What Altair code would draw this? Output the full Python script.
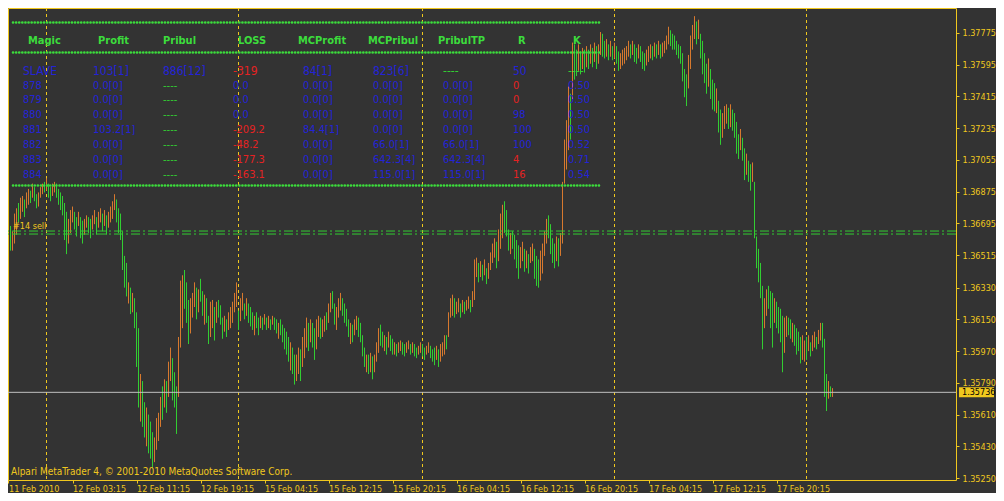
import altair as alt
import pandas as pd

# ---------------- data ----------------
# bar highs / lows in pips above 1.3500 (M15 bars, left to right)
HIGH_PIPS = [
    168, 165, 175, 178, 181, 184, 185, 183, 187, 189,
    188, 192, 190, 186, 187, 190, 192, 193, 195, 192,
    190, 192, 193, 192, 189, 187, 185, 181, 176, 172,
    177, 179, 176, 173, 176, 173, 171, 172, 174, 173,
    172, 174, 177, 173, 176, 178, 175, 177, 174, 176,
    179, 182, 186, 183, 178, 175, 165, 151, 147, 136,
    133, 130, 127, 119, 110, 84, 80, 68, 65, 61,
    57, 51, 48, 59, 62, 71, 77, 81, 80, 91,
    99, 93, 85, 77, 105, 137, 140, 143, 136, 126,
    127, 130, 136, 133, 132, 138, 131, 129, 127, 117,
    125, 126, 122, 125, 126, 123, 116, 117, 115, 119,
    122, 125, 130, 136, 120, 127, 130, 124, 127, 124,
    122, 119, 117, 119, 116, 117, 116, 118, 116, 117,
    115, 117, 116, 115, 113, 115, 112, 110, 108, 105,
    102, 99, 95, 95, 99, 98, 105, 110, 116, 113,
    115, 113, 110, 115, 117, 116, 115, 117, 119, 124,
    130, 131, 124, 122, 127, 130, 127, 124, 121, 115,
    113, 112, 115, 117, 116, 113, 106, 99, 95, 95,
    96, 94, 95, 102, 110, 112, 108, 106, 105, 108,
    106, 104, 102, 101, 102, 103, 102, 101, 102, 103,
    101, 102, 101, 99, 100, 102, 101, 99, 100, 102,
    100, 98, 99, 100, 98, 101, 102, 106, 106, 119,
    127, 129, 127, 125, 127, 124, 126, 125, 126, 128,
    126, 131, 149, 150, 147, 148, 146, 149, 144, 147,
    153, 158, 161, 159, 166, 175, 180, 182, 177, 166,
    164, 165, 163, 160, 157, 156, 159, 155, 154, 152,
    156, 158, 155, 151, 149, 154, 158, 165, 172, 174,
    169, 161, 158, 162, 161, 164, 193, 217, 228, 247,
    243, 272, 271, 268, 271, 267, 269, 268, 270, 268,
    271, 269, 272, 270, 271, 278, 277, 273, 274, 271,
    273, 270, 272, 270, 267, 266, 268, 269, 270, 273,
    271, 273, 271, 269, 271, 270, 267, 266, 268, 270,
    271, 270, 272, 271, 273, 271, 272, 273, 276, 281,
    279, 277, 276, 273, 271, 270, 266, 257, 254, 265,
    276, 282, 287, 284, 285, 277, 273, 266, 260, 263,
    257, 251, 249, 246, 239, 234, 232, 236, 237, 235,
    237, 234, 232, 227, 220, 223, 218, 212, 209, 205,
    203, 204, 193, 162, 155, 147, 134, 127, 132, 134,
    131, 130, 127, 125, 122, 121, 117, 116, 117, 116,
    115, 113, 112, 110, 108, 105, 106, 103, 105, 106,
    102, 106, 108, 105, 109, 113, 113, 104, 84, 80,
    77, 76,
]
LOW_PIPS = [
    154, 154, 158, 163, 170, 172, 176, 173, 178, 180,
    181, 184, 182, 178, 179, 184, 186, 187, 188, 184,
    182, 185, 187, 184, 180, 177, 174, 160, 152, 158,
    164, 170, 166, 162, 168, 161, 158, 163, 167, 164,
    161, 166, 169, 163, 167, 170, 165, 168, 163, 167,
    170, 172, 177, 170, 164, 160, 143, 133, 128, 124,
    118, 119, 110, 88, 65, 57, 54, 48, 43, 39,
    36, 31, 34, 41, 46, 54, 58, 65, 62, 71,
    80, 69, 65, 50, 71, 99, 110, 121, 113, 101,
    107, 116, 122, 115, 119, 125, 117, 112, 113, 101,
    105, 110, 103, 113, 116, 112, 104, 108, 105, 109,
    110, 113, 119, 122, 109, 114, 120, 115, 117, 113,
    111, 109, 106, 110, 106, 110, 109, 112, 109, 110,
    109, 112, 109, 107, 104, 106, 102, 98, 95, 91,
    86, 84, 78, 80, 84, 80, 88, 93, 99, 97,
    102, 99, 92, 98, 105, 104, 105, 108, 109, 113,
    119, 121, 112, 109, 116, 120, 117, 113, 111, 105,
    101, 102, 106, 109, 105, 102, 94, 88, 85, 84,
    85, 81, 85, 91, 96, 100, 99, 97, 95, 99,
    97, 95, 95, 94, 96, 97, 95, 94, 96, 98,
    95, 96, 94, 93, 95, 96, 94, 92, 95, 96,
    93, 91, 89, 92, 88, 91, 94, 95, 98, 105,
    116, 117, 116, 118, 119, 116, 119, 118, 120, 121,
    119, 122, 126, 139, 136, 139, 137, 140, 135, 138,
    143, 147, 150, 144, 148, 155, 161, 164, 162, 154,
    152, 155, 149, 144, 138, 144, 148, 142, 144, 141,
    147, 148, 138, 134, 133, 137, 141, 151, 158, 161,
    152, 147, 144, 148, 145, 151, 158, 192, 200, 211,
    217, 240, 251, 253, 256, 254, 257, 255, 258, 257,
    260, 258, 261, 257, 260, 265, 264, 263, 264, 262,
    264, 262, 263, 260, 256, 257, 259, 260, 262, 264,
    263, 265, 261, 260, 263, 261, 257, 256, 259, 261,
    263, 262, 264, 263, 265, 263, 264, 266, 268, 271,
    270, 268, 268, 265, 263, 260, 250, 241, 236, 246,
    257, 268, 274, 271, 274, 263, 254, 249, 243, 247,
    240, 234, 233, 232, 221, 214, 218, 223, 226, 223,
    224, 222, 218, 209, 206, 211, 205, 194, 197, 193,
    188, 193, 161, 144, 136, 127, 98, 110, 117, 121,
    110, 99, 113, 110, 107, 102, 85, 96, 105, 106,
    104, 102, 100, 95, 97, 90, 92, 91, 92, 97,
    94, 97, 99, 98, 101, 103, 99, 71, 63, 70,
    71, 71,
]
# u = up bar, d = down bar
DIRECTION = (
    "duuuduuduu" "dudduuudud" "duuddddddu" "uuddudduud" "duuduududu"
    "uuuddddddu" "duddduddud" "dduuuududu" "uddduuuddd" "uuududdudd"
    "uududddudu" "uuuuduudud" "dduddududu" "dudduddddd" "udduuduuud"
    "udduuduudu" "udduuudddd" "uduuddddud" "uduuuddudu" "dduduudduu"
    "dudduudduu" "ddduduuudu" "uuduududuu" "duuudududu" "uuuduuuddd"
    "udddduudud" "uuddduuuud" "ddduduuuuu" "duddududud" "ududuuddud"
    "ududduuuuu" "dudduddduu" "udududuuuu" "dddddddddu" "uuududdddu"
    "dddudduuud" "udddduddud" "duddddduud" "ddudddduud" "dudddduudu"
    "duuduudddu" "du"
)

TIME_LABELS = ["11 Feb 2010", "12 Feb 03:15", "12 Feb 11:15", "12 Feb 19:15",
               "15 Feb 04:15", "15 Feb 12:15", "15 Feb 20:15", "16 Feb 04:15",
               "16 Feb 12:15", "16 Feb 20:15", "17 Feb 04:15", "17 Feb 12:15",
               "17 Feb 20:15"]
TIME_TICK_BARS = [-1, 31, 63, 95, 127, 159, 191, 223, 255, 287, 319, 351, 383]
SEPARATOR_BARS = [18, 114, 206, 302, 398]
PRICE_TICKS = [1.37775, 1.37595, 1.37415, 1.37235, 1.37055, 1.36875, 1.36695,
               1.36515, 1.36330, 1.36150, 1.35970, 1.35790, 1.35610, 1.35430, 1.35250]
ORDER_PRICES = [1.36651, 1.36634]
CURRENT_PRICE = 1.35736
ORDER_LABEL = "#14 sell"
COPYRIGHT = "Alpari MetaTrader 4, \u00a9 2001-2010 MetaQuotes Software Corp."

HEADERS = ["Magic", "Profit", "Pribul", "LOSS", "MCProfit", "MCPribul", "PribulTP", "R", "K"]
MAGIC = ["SLAVE", "878", "879", "880", "881", "882", "883", "884"]
PROFIT = ["103[1]", "0.0[0]", "0.0[0]", "0.0[0]", "103.2[1]", "0.0[0]", "0.0[0]", "0.0[0]"]
PRIBUL = ["886[12]", "----", "----", "----", "----", "----", "----", "----"]
LOSS = ["-319", "0.0", "0.0", "0.0", "-209.2", "-48.2", "-177.3", "-163.1"]
MCPROFIT = ["84[1]", "0.0[0]", "0.0[0]", "0.0[0]", "84.4[1]", "0.0[0]", "0.0[0]", "0.0[0]"]
MCPRIBUL = ["823[6]", "0.0[0]", "0.0[0]", "0.0[0]", "0.0[0]", "66.0[1]", "642.3[4]", "115.0[1]"]
PRIBULTP = ["----", "0.0[0]", "0.0[0]", "0.0[0]", "0.0[0]", "66.0[1]", "642.3[4]", "115.0[1]"]
R_COL = ["50", "0", "0", "98", "100", "100", "4", "16"]
K_COL = ["----", "0.50", "0.50", "0.50", "0.50", "0.52", "0.71", "0.54"]
TABLE_COLUMNS = [MAGIC, PROFIT, PRIBUL, LOSS, MCPROFIT, MCPRIBUL, PRIBULTP, R_COL, K_COL]

# ---------------- layout / style ----------------
W, H = 948, 472
YF = H / 476.0
X_DOMAIN = [-1.25, -1.25 + W / 2]
Y_DOMAIN = [1.3523875, 1.3791625]
BG = "#333333"
GOLD = "#F0C81E"
UP = "#D7792E"
DOWN = "#32CD32"
DOT_GREEN = "#3CDC3C"
BLUE = "#2323D6"
RED = "#E52222"
SILVER = "#C0C0C0"
FONT = "DejaVu Sans Condensed, Liberation Sans, sans-serif"
HEADER_X = [20, 90, 155, 230, 290, 360, 430, 510, 565]
CELL_X = [15, 85, 155, 225, 295, 365, 435, 505, 560]
ROW_Y = [v * YF for v in [63.5, 78.5, 93, 108, 123, 138, 153, 168]]
HEADER_Y = 33 * YF
DOT_Y = [round(v * YF) + 0.5 for v in [14, 44, 179]]

n = min(len(HIGH_PIPS), len(LOW_PIPS))
bars = pd.DataFrame({
    "i": list(range(n)),
    "low": [1.35 + v / 10000 for v in LOW_PIPS[:n]],
    "high": [1.35 + v / 10000 for v in HIGH_PIPS[:n]],
    "dir": [DIRECTION[k] if k < len(DIRECTION) else "d" for k in range(n)],
})

xs = alt.Scale(domain=X_DOMAIN, nice=False, zero=False)
ys = alt.Scale(domain=Y_DOMAIN, nice=False, zero=False)

labels_js = "[" + ",".join("'%s'" % s for s in TIME_LABELS) + "]"
ticks_js = "[" + ",".join(str(v) for v in TIME_TICK_BARS) + "]"

x_axis = alt.Axis(values=TIME_TICK_BARS, labelExpr=f"{labels_js}[indexof({ticks_js}, datum.value)]",
                  orient="bottom", title=None, grid=False, domain=False,
                  tickSize=3, tickColor=GOLD, labelColor=GOLD, labelFont=FONT, labelFontSize=9,
                  labelAlign="left", labelBaseline="top", labelPadding=1,
                  labelFlush=False, labelOverlap=False, labelBound=False)
y_axis = alt.Axis(values=PRICE_TICKS, format=".5f", orient="right", title=None, grid=False,
                  domain=False, tickSize=3, tickColor=GOLD, labelColor=GOLD, labelFont=FONT,
                  labelFontSize=9, labelAlign="left", labelBaseline="middle", labelPadding=3,
                  labelOverlap=False, labelFlush=False, labelBound=False)

sep = alt.Chart(pd.DataFrame({"i": SEPARATOR_BARS})).mark_rule(
    color=GOLD, strokeDash=[3, 3], strokeWidth=1
).encode(x=alt.X("i:Q", scale=xs, axis=None))

bar_layer = alt.Chart(bars).mark_rule(strokeWidth=1, opacity=1).encode(
    x=alt.X("i:Q", scale=xs, axis=x_axis),
    y=alt.Y("low:Q", scale=ys, axis=y_axis),
    y2="high:Q",
    color=alt.Color("dir:N", scale=alt.Scale(domain=["u", "d"], range=[UP, DOWN]), legend=None),
)

orders = alt.Chart(pd.DataFrame({"p": ORDER_PRICES})).mark_rule(
    color=DOWN, strokeDash=[9, 3, 2, 3], strokeWidth=1
).encode(y=alt.Y("p:Q", scale=ys, axis=None))

price_line = alt.Chart(pd.DataFrame({"p": [CURRENT_PRICE]})).mark_rule(
    color=SILVER, strokeWidth=1
).encode(y=alt.Y("p:Q", scale=ys, axis=None))

dots = [
    alt.Chart(pd.DataFrame({"k": [0]})).mark_rule(
        color=DOT_GREEN, strokeDash=[0.1, 3], strokeCap="round", strokeWidth=2.6
    ).encode(x=alt.value(5), x2=alt.value(592), y=alt.value(yv))
    for yv in DOT_Y
]

headers = alt.Chart(pd.DataFrame({"t": HEADERS, "px": HEADER_X})).mark_text(
    align="left", baseline="middle", font=FONT, fontSize=11, fontWeight="bold", color=DOT_GREEN
).encode(x=alt.X("px:Q", scale=None, axis=None), y=alt.value(HEADER_Y), text="t:N")

rows = []
for j, col in enumerate(TABLE_COLUMNS):
    for r, txt in enumerate(col):
        if txt == "----":
            cls = "g"
        elif j == 3 and txt.startswith("-"):
            cls = "r"
        elif j == 7 and int(txt) < 20:
            cls = "r"
        else:
            cls = "b"
        rows.append({"t": txt, "px": CELL_X[j], "py": ROW_Y[r], "cls": cls,
                     "fs": 12 if r == 0 else 11})
cells = alt.Chart(pd.DataFrame(rows)).mark_text(
    align="left", baseline="middle", font=FONT
).encode(
    x=alt.X("px:Q", scale=None, axis=None),
    y=alt.Y("py:Q", scale=None, axis=None),
    text="t:N",
    size=alt.Size("fs:Q", scale=None, legend=None),
    color=alt.Color("cls:N", scale=alt.Scale(domain=["b", "r", "g"], range=[BLUE, RED, DOWN]), legend=None),
)

sell_label = alt.Chart(pd.DataFrame({"t": [ORDER_LABEL]})).mark_text(
    align="left", baseline="middle", font=FONT, fontSize=9, color=GOLD
).encode(x=alt.value(5), y=alt.value(219.5 * YF), text="t:N")

copyright_txt = alt.Chart(pd.DataFrame({"t": [COPYRIGHT]})).mark_text(
    align="left", baseline="middle", font=FONT, fontSize=10, color=GOLD
).encode(x=alt.value(3), y=alt.value(467.5 * YF), text="t:N")

price_box = alt.Chart(pd.DataFrame({"p": [CURRENT_PRICE]})).mark_point(
    shape="M-1,-0.2857H1V0.2857H-1Z", size=1225, filled=True, opacity=1, color=GOLD, strokeWidth=0
).encode(x=alt.value(W + 3 + 17.5), y=alt.Y("p:Q", scale=ys, axis=None))

price_txt = alt.Chart(pd.DataFrame({"p": [CURRENT_PRICE], "t": [f"{CURRENT_PRICE:.5f}"]})).mark_text(
    align="left", baseline="middle", font=FONT, fontSize=9, color="black"
).encode(x=alt.value(W + 6), y=alt.Y("p:Q", scale=ys, axis=None), text="t:N")

chart = alt.layer(
    sep, bar_layer, orders, price_line, *dots, headers, cells, sell_label, copyright_txt,
    price_box, price_txt
).resolve_scale(
    x="independent", y="independent", color="independent", size="independent"
).properties(
    width=W, height=H,
    autosize=alt.AutoSizeParams(type="none"),
    padding={"left": 0, "top": 0, "right": 988 - W, "bottom": 485 - H},
    background=BG,
).configure_view(stroke=GOLD, strokeWidth=1).configure_axis(grid=False)

chart.save("out.html", embed_options={"renderer": "svg", "actions": False})
